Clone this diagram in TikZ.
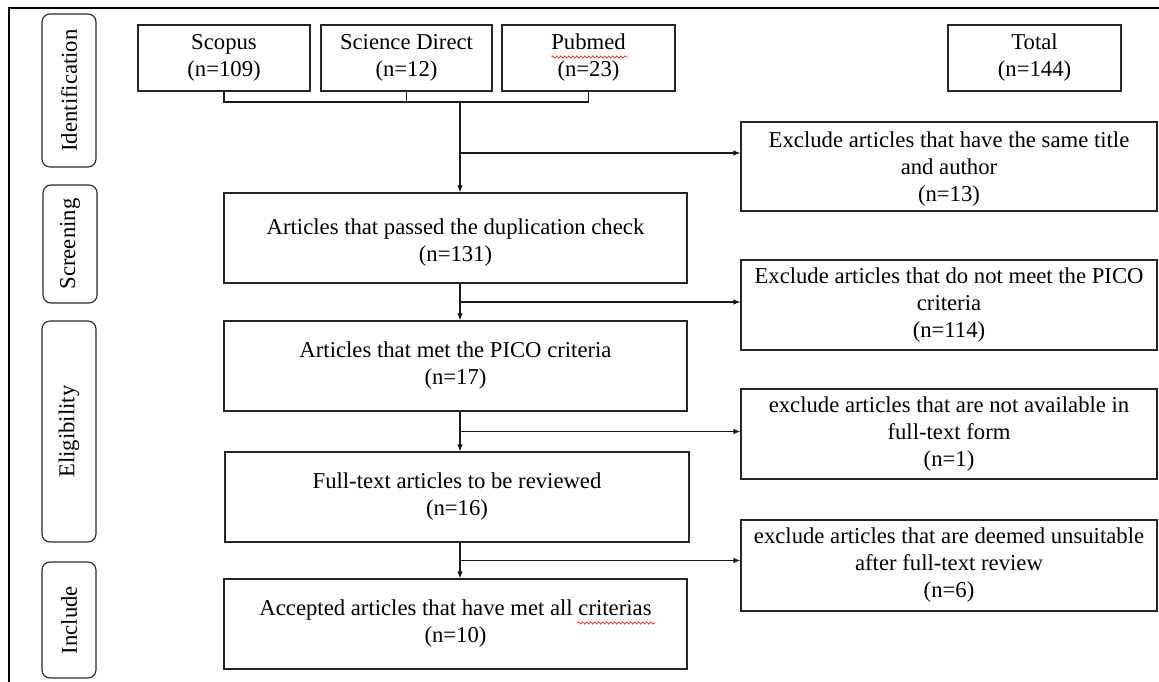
\documentclass[tikz,border=0pt]{standalone}
\usepackage{fontspec}
\setmainfont{Liberation Serif}
\usetikzlibrary{arrows.meta,calc,decorations.pathmorphing}
\tikzset{
  box/.style={draw=black!85, line width=1.1pt, inner sep=0pt, align=center,
    font=\fontsize{22.7}{27}\selectfont},
  txt/.style={inner sep=0pt, align=center, font=\fontsize{22.7}{27}\selectfont},
  sidebox/.style={draw=black!85, line width=1.1pt, inner sep=0pt, rounded corners=8pt,
    rotate=90, font=\fontsize{22.7}{27}\selectfont},
  link/.style={line width=1.1pt, draw=black!90},
  arr/.style={link, -{Latex[length=7pt,width=5.5pt]}},
  spell/.style={draw=red, line width=0.6pt, decorate,
    decoration={snake, amplitude=1.1pt, segment length=4pt}},
}
\begin{document}
\begin{tikzpicture}[x=1pt,y=-1pt]
\useasboundingbox (0,0) rectangle (1159,682);
\draw[line width=1.5pt] (9,8) rectangle (1175,700);
% side labels
\node[sidebox, minimum width=153, minimum height=54] (sid) at (69,90.5) {Identification};
\node[sidebox, minimum width=118, minimum height=54] (sscr) at (70,244) {Screening};
\node[sidebox, minimum width=221, minimum height=54] (selig) at (69,431.5) {Eligibility};
\node[sidebox, minimum width=116, minimum height=54] (sinc) at (69,620) {Include};
% sources
\node[box, minimum width=172, minimum height=66] (scopus) at (224,58) {Scopus\\(n=109)};
\node[box, minimum width=171, minimum height=66] (sd) at (406.5,58) {Science Direct\\(n=12)};
\node[box, minimum width=173, minimum height=66] (pubmed) at (588.5,58) {Pubmed\\(n=23)};
\node[box, minimum width=173, minimum height=66] (total) at (1034.5,58) {Total\\(n=144)};
% main column
\node[box, minimum width=463, minimum height=90] (screen) at (455.5,238) {};
\node[txt] (screent) at ($(screen.center)+(0,5)$) {Articles that passed the duplication check\\(n=131)};
\node[box, minimum width=463, minimum height=90] (pico) at (455.5,366) {Articles that met the PICO criteria\\(n=17)};
\node[box, minimum width=464, minimum height=90] (full) at (457,497) {Full-text articles to be reviewed\\(n=16)};
\node[box, minimum width=463, minimum height=90] (acc) at (455.5,624) {Accepted articles that have met all criterias\\(n=10)};
% exclusions
\node[box, minimum width=416, minimum height=89] (ex1) at (949,166.5) {};
\node[txt] (ex1t) at ($(ex1.center)+(0,3)$) {Exclude articles that have the same title\\and author\\(n=13)};
\node[box, minimum width=416, minimum height=90] (ex2) at (949,305) {Exclude articles that do not meet the PICO\\criteria\\(n=114)};
\node[box, minimum width=416, minimum height=90] (ex3) at (949,434) {exclude articles that are not available in\\full-text form\\(n=1)};
\node[box, minimum width=416, minimum height=91] (ex4) at (949,565.5) {exclude articles that are deemed unsuitable\\after full-text review\\(n=6)};
% spell-check marks
\draw[spell] ($(pubmed.center)+(-37,-1)$) -- ($(pubmed.center)+(39,-1)$);
\draw[spell] ($(acc.center)+(122,-1)$) -- ($(acc.center)+(199,-1)$);
% connectors
\coordinate (m) at (460,102);
\coordinate (b1) at (460,153);
\draw[link] (scopus.south) -- (scopus.south |- m) -- (pubmed.south |- m) -- (pubmed.south);
\draw[link] (sd.south) -- (sd.south |- m);
\draw[arr] (m) -- (screen.north -| m);
\draw[arr] (b1) -- (ex1.west |- b1);
\draw[arr] (screen.south -| m) -- (pico.north -| m);
\coordinate (b2) at ($(screen.south -| m)!0.5!(pico.north -| m)$);
\draw[arr] (b2) -- (ex2.west |- b2);
\draw[arr] (pico.south -| m) -- (full.north -| m);
\coordinate (b3) at ($(pico.south -| m)!0.5!(full.north -| m)$);
\draw[arr] (b3) -- (ex3.west |- b3);
\draw[arr] (full.south -| m) -- (acc.north -| m);
\coordinate (b4) at ($(full.south -| m)!0.5!(acc.north -| m)$);
\draw[arr] (b4) -- (ex4.west |- b4);
\end{tikzpicture}
\end{document}
